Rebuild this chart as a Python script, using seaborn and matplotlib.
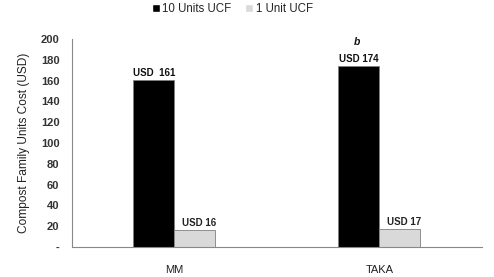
import matplotlib
matplotlib.use("Agg")
import matplotlib.pyplot as plt
import seaborn as sns
import pandas as pd
from matplotlib.patches import Patch

sites = ["MM", "TAKA"]
series = ["10 Units UCF", "1 Unit UCF"]
cost_10 = [161, 174]
cost_1 = [16, 17]
labels_10 = ["USD  161", "USD 174"]
labels_1 = ["USD 16", "USD 17"]

df = pd.DataFrame({
    "site": sites * 2,
    "series": [series[0]] * 2 + [series[1]] * 2,
    "cost": cost_10 + cost_1,
})

sns.set_style("white")
plt.rcParams['font.family'] = ['Liberation Sans', 'DejaVu Sans']

fig = plt.figure(figsize=(4.94, 2.77), dpi=100)
ax = fig.add_axes([0.1457, 0.1083, 0.83, 0.7507])

sns.barplot(data=df, x="site", y="cost", hue="series", order=sites, hue_order=series,
            palette=["#000000", "#d9d9d9"], width=0.4, edgecolor="#808080", linewidth=0.6,
            ax=ax, legend=False)

ax.set_xlim(-0.5, 1.5)
ax.set_ylim(0, 200)
ax.set_yticks(range(0, 201, 20))
ax.set_yticklabels(["-"] + [str(v) for v in range(20, 201, 20)], fontsize=8, fontweight="bold", color="#333333")
ax.set_xticks([0, 1])
ax.set_xticklabels(sites, fontsize=8, color="#222222")
ax.set_xlabel("")
ax.set_ylabel("Compost Family Units Cost (USD)", fontsize=8.6, color="#222222", labelpad=8)
ax.tick_params(axis="y", direction="out", length=3, color="#888888", pad=6)
ax.tick_params(axis="x", length=0, pad=13)

for s in ["top", "right"]:
    ax.spines[s].set_visible(False)
ax.spines["left"].set_color("#888888")
ax.spines["bottom"].set_color("#888888")
ax.spines["left"].set_linewidth(0.8)
ax.spines["bottom"].set_linewidth(0.8)

# value labels
for i, (v, t) in enumerate(zip(cost_10, labels_10)):
    ax.text(i - 0.1, v + 2, t, ha="center", va="bottom", fontsize=7, fontweight="bold", color="#111111")
for i, (v, t) in enumerate(zip(cost_1, labels_1)):
    ax.text(i + 0.12, v + 2, t, ha="center", va="bottom", fontsize=7, fontweight="semibold", color="#222222")
ax.text(0.89, 197, "b", ha="center", va="center", fontsize=7.5, fontweight="bold", style="italic", color="#111111")

# legend
handles = [Patch(facecolor="#000000"), Patch(facecolor="#d9d9d9")]
fig.legend(handles, series, loc="center", bbox_to_anchor=(0.47, 0.968), ncol=2, frameon=False,
           fontsize=8.3, handlelength=0.7, handleheight=0.7, handletextpad=0.2, columnspacing=1.2)

fig.savefig("out.png", dpi=100)
